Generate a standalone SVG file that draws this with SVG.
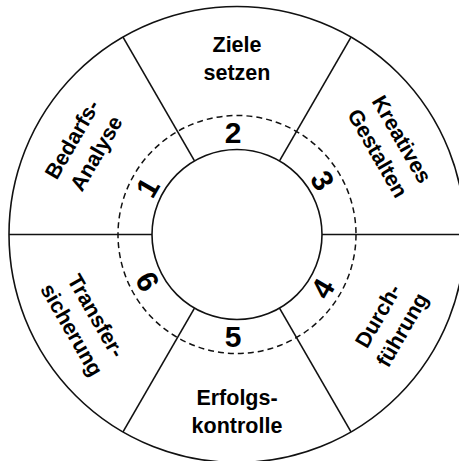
<svg xmlns="http://www.w3.org/2000/svg" width="459" height="461" viewBox="0 0 459 461">
<style>
.ln{stroke:#111;stroke-width:1.6;fill:none}
.dash{stroke:#111;stroke-width:1.5;fill:none;stroke-dasharray:6 4}
.lbl{font-family:"Liberation Sans",Arial,sans-serif;font-weight:bold;font-size:21.5px;fill:#000;text-anchor:middle}
.num{font-family:"Liberation Sans",Arial,sans-serif;font-weight:bold;font-size:30px;fill:#000;text-anchor:middle}
</style>
<rect width="459" height="461" fill="#fff"/>
<g id="rings">
<circle class="ln" cx="237" cy="234.5" r="228"/>
<circle class="dash" cx="237" cy="234.5" r="119"/>
<circle class="ln" cx="237" cy="234.5" r="85"/>
</g>
<g id="connectors">
<line class="ln" x1="322" y1="234.5" x2="465" y2="234.5"/>
<line class="ln" x1="279.5" y1="308.11" x2="351" y2="431.95"/>
<line class="ln" x1="194.5" y1="308.11" x2="123" y2="431.95"/>
<line class="ln" x1="152" y1="234.5" x2="9" y2="234.5"/>
<line class="ln" x1="194.5" y1="160.89" x2="123" y2="37.05"/>
<line class="ln" x1="279.5" y1="160.89" x2="351" y2="37.05"/>
</g>
<g id="node1" transform="translate(84.1,146.25) rotate(-60)">
<text class="lbl" x="0" y="-6.5">Bedarfs-</text>
<text class="lbl" x="0" y="21.5">Analyse</text>
</g>
<g id="node2" transform="translate(237,58)">
<text class="lbl" x="0" y="-6.5">Ziele</text>
<text class="lbl" x="0" y="21.5">setzen</text>
</g>
<g id="node3" transform="translate(389.9,146.25) rotate(60)">
<text class="lbl" x="0" y="-6.5">Kreatives</text>
<text class="lbl" x="0" y="21.5">Gestalten</text>
</g>
<g id="node4" transform="translate(389.9,322.75) rotate(-60)">
<text class="lbl" x="0" y="-6.5">Durch-</text>
<text class="lbl" x="0" y="21.5">führung</text>
</g>
<g id="node5" transform="translate(237,411)">
<text class="lbl" x="0" y="-6.5">Erfolgs-</text>
<text class="lbl" x="0" y="21.5">kontrolle</text>
</g>
<g id="node6" transform="translate(84.1,322.75) rotate(60)">
<text class="lbl" x="0" y="-6.5">Transfer-</text>
<text class="lbl" x="0" y="21.5">sicherung</text>
</g>
<g id="numbers">
<text class="num" transform="translate(149.5,184) rotate(-60)" x="-4" y="10.5">1</text>
<text class="num" transform="translate(237,132.5)" x="-4" y="10.5">2</text>
<text class="num" transform="translate(324.5,184) rotate(60)" x="-4" y="10.5">3</text>
<text class="num" transform="translate(324.5,285) rotate(-60)" x="-4" y="10.5">4</text>
<text class="num" transform="translate(237,336)" x="-4" y="10.5">5</text>
<text class="num" transform="translate(149.5,285) rotate(60)" x="-4" y="10.5">6</text>
</g>
</svg>
